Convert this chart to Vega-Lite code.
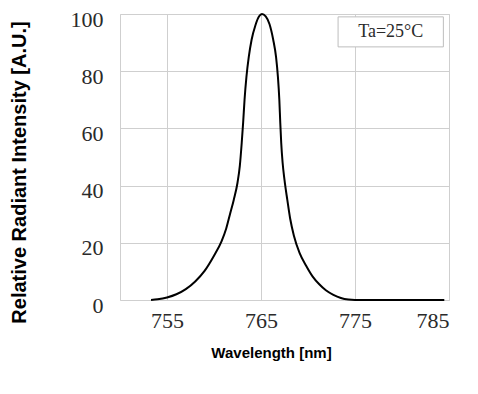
{
  "$schema": "https://vega.github.io/schema/vega-lite/v6.json",
  "width": 329,
  "height": 286,
  "autosize": {"type": "none"},
  "padding": {"left": 120, "top": 14, "right": 29, "bottom": 94},
  "background": "white",
  "config": {"view": {"stroke": "#cfcfcf", "strokeWidth": 1}},
  "datasets": {
    "spectrum": [
      {"wavelength": 753.3, "intensity": 0},
      {"wavelength": 754, "intensity": 0.25},
      {"wavelength": 755, "intensity": 0.9},
      {"wavelength": 756, "intensity": 2.0},
      {"wavelength": 757, "intensity": 3.8},
      {"wavelength": 758, "intensity": 6.5},
      {"wavelength": 759, "intensity": 10.2},
      {"wavelength": 760, "intensity": 15.5},
      {"wavelength": 760.8, "intensity": 20.5},
      {"wavelength": 761.3, "intensity": 25},
      {"wavelength": 761.7, "intensity": 30},
      {"wavelength": 762.1, "intensity": 35},
      {"wavelength": 762.5, "intensity": 41},
      {"wavelength": 762.75, "intensity": 47},
      {"wavelength": 762.95, "intensity": 55},
      {"wavelength": 763.1, "intensity": 62},
      {"wavelength": 763.25, "intensity": 70},
      {"wavelength": 763.45, "intensity": 78},
      {"wavelength": 763.7, "intensity": 85},
      {"wavelength": 764.0, "intensity": 91},
      {"wavelength": 764.4, "intensity": 96},
      {"wavelength": 764.8, "intensity": 99.2},
      {"wavelength": 765.1, "intensity": 100},
      {"wavelength": 765.5, "intensity": 99.2},
      {"wavelength": 765.9, "intensity": 96.5},
      {"wavelength": 766.3, "intensity": 91},
      {"wavelength": 766.6, "intensity": 85},
      {"wavelength": 766.8, "intensity": 78},
      {"wavelength": 766.95, "intensity": 70},
      {"wavelength": 767.05, "intensity": 62},
      {"wavelength": 767.15, "intensity": 55},
      {"wavelength": 767.3, "intensity": 48},
      {"wavelength": 767.5, "intensity": 42},
      {"wavelength": 767.8, "intensity": 35},
      {"wavelength": 768.1, "intensity": 28.5},
      {"wavelength": 768.5, "intensity": 22.5},
      {"wavelength": 769.1, "intensity": 16.5},
      {"wavelength": 769.8, "intensity": 12},
      {"wavelength": 770.5, "intensity": 8.2},
      {"wavelength": 771.2, "intensity": 5.5},
      {"wavelength": 771.9, "intensity": 3.4},
      {"wavelength": 772.7, "intensity": 1.8},
      {"wavelength": 773.5, "intensity": 0.7},
      {"wavelength": 774.3, "intensity": 0.15},
      {"wavelength": 775, "intensity": 0},
      {"wavelength": 784.5, "intensity": 0}
    ],
    "note": [{"label": "Ta=25°C"}]
  },
  "layer": [
    {
      "data": {"name": "spectrum"},
      "mark": {"type": "line", "color": "black", "strokeWidth": 2, "interpolate": "monotone"},
      "encoding": {
        "x": {
          "field": "wavelength", "type": "quantitative",
          "scale": {"domain": [750, 785], "nice": false, "zero": false},
          "axis": {
            "values": [755, 765, 775, 785],
            "grid": true, "gridColor": "#cfcfcf", "gridWidth": 1,
            "ticks": false, "domain": false,
            "labelFont": "Liberation Serif", "labelFontSize": 22, "labelColor": "#2a2a2a",
            "labelPadding": 10,
            "title": "Wavelength [nm]",
            "titleFont": "Liberation Sans", "titleFontSize": 15, "titleFontWeight": "bold",
            "titleColor": "black",
            "titleX": 151, "titleY": 52, "titleBaseline": "middle", "titleAlign": "center"
          }
        },
        "y": {
          "field": "intensity", "type": "quantitative",
          "scale": {"domain": [0, 100], "nice": false},
          "axis": {
            "values": [0, 10, 20, 30, 40, 50, 60, 70, 80, 90, 100],
            "labelExpr": "datum.value % 20 == 0 ? datum.label : ''",
            "grid": true, "gridColor": "#cfcfcf", "gridWidth": 1,
            "ticks": false, "domain": false,
            "labelFont": "Liberation Serif", "labelFontSize": 22, "labelColor": "#2a2a2a",
            "labelPadding": 17, "labelOffset": 5,
            "title": "Relative Radiant Intensity [A.U.]",
            "titleFont": "Liberation Sans", "titleFontSize": 20, "titleFontWeight": "bold",
            "titleColor": "black",
            "titleX": -101, "titleY": 158, "titleBaseline": "middle", "titleAlign": "center", "titleAngle": -90
          }
        }
      }
    },
    {
      "data": {"name": "note"},
      "mark": {"type": "rect", "fill": "white", "stroke": "#bdbdbd", "strokeWidth": 1},
      "encoding": {
        "x": {"datum": 773.2, "type": "quantitative"},
        "x2": {"datum": 784.4},
        "y": {"datum": 99, "type": "quantitative"},
        "y2": {"datum": 88.5}
      }
    },
    {
      "data": {"name": "note"},
      "mark": {"type": "text", "font": "Liberation Serif", "fontSize": 18, "color": "#2a2a2a", "baseline": "middle", "align": "center"},
      "encoding": {
        "x": {"datum": 778.8, "type": "quantitative"},
        "y": {"datum": 93.7, "type": "quantitative"},
        "text": {"field": "label"}
      }
    }
  ]
}
